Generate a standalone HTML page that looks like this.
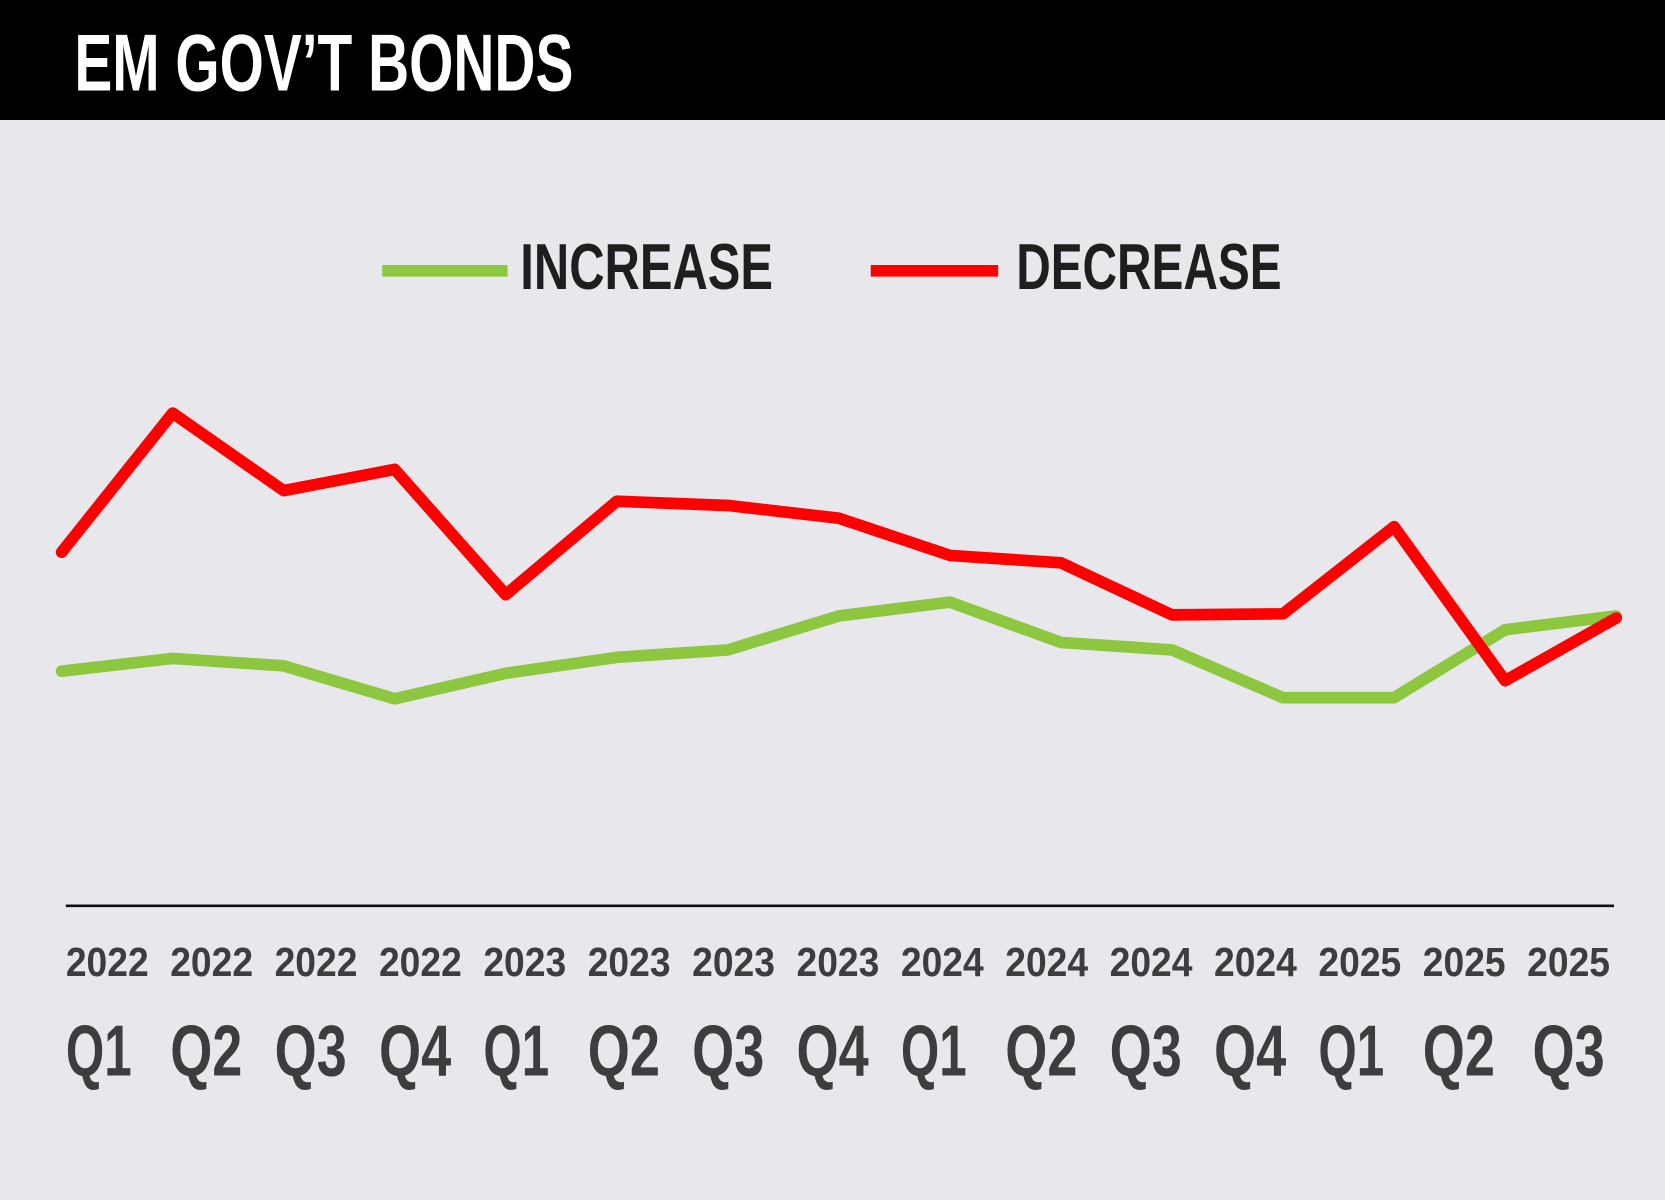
<!DOCTYPE html>
<html><head><meta charset="utf-8"><style>
html,body{margin:0;padding:0;background:#e7e7ec;}
svg{display:block;}
text{font-family:"Liberation Sans Narrow","Liberation Sans",sans-serif;font-weight:bold;}
</style></head><body>
<svg id="chart" width="1665" height="1200" viewBox="0 0 1568 1130" preserveAspectRatio="none" xmlns="http://www.w3.org/2000/svg">
<rect x="0" y="0" width="1568" height="1130" fill="#e7e7ec"/>
<rect x="0" y="0" width="1568" height="113" fill="#000"/>
<text x="70" y="85" font-size="76" fill="#fff" textLength="470" lengthAdjust="spacingAndGlyphs">EM GOV’T BONDS</text>
<g>
<line x1="360" y1="255" x2="478" y2="255" stroke="#8dc63f" stroke-width="11"/>
<text x="490" y="272" font-size="61" fill="#1e1e1e" textLength="238" lengthAdjust="spacingAndGlyphs">INCREASE</text>
<line x1="820" y1="255" x2="940" y2="255" stroke="#ff0000" stroke-width="11"/>
<text x="957" y="272" font-size="61" fill="#1e1e1e" textLength="250" lengthAdjust="spacingAndGlyphs">DECREASE</text>
</g>
<line x1="62" y1="853" x2="1520" y2="853" stroke="#111" stroke-width="2.5"/>
<g id="series"></g>
<g id="labels"></g>
</svg>
<script>
const years = ["2022","2022","2022","2022","2023","2023","2023","2023","2024","2024","2024","2024","2025","2025","2025"];
const quarters = ["Q1","Q2","Q3","Q4","Q1","Q2","Q3","Q4","Q1","Q2","Q3","Q4","Q1","Q2","Q3"];
const increase = [13.6,16,14.6,8.4,13.2,16.2,17.6,24,26.6,19,17.6,8.6,8.6,21.4,24];
const decrease = [36,62.2,47.6,51.6,28,45.6,44.8,42.4,35.4,34,24.2,24.4,40.8,11.8,23.6];

const NS = "http://www.w3.org/2000/svg";
function xPos(i){ return 58 + i * (1522 - 58) / (years.length - 1); }
function yPos(v){ return 700 - v * 5; }
function labelX(i){ return 62 + i * 98.3; }

const series = document.getElementById('series');
function drawLine(vals, color, name){
  const p = document.createElementNS(NS, 'polyline');
  p.setAttribute('points', vals.map((v,i)=>xPos(i)+','+yPos(v)).join(' '));
  p.setAttribute('fill','none');
  p.setAttribute('stroke',color);
  p.setAttribute('stroke-width','11');
  p.setAttribute('stroke-linejoin','round');
  p.setAttribute('stroke-linecap','round');
  
  
  series.appendChild(p);
}
drawLine(increase, '#8dc63f', 'increase-line');
drawLine(decrease, '#ff0000', 'decrease-line');

const labels = document.getElementById('labels');
years.forEach((y,i)=>{
  const t = document.createElementNS(NS,'text');
  t.setAttribute('x', labelX(i));
  t.setAttribute('y', 919);
  t.setAttribute('font-size','38');
  t.setAttribute('fill','#3d3d40');
  t.setAttribute('textLength','78');
  t.setAttribute('lengthAdjust','spacingAndGlyphs');
  t.textContent = y;
  
  
  labels.appendChild(t);
  const q = document.createElementNS(NS,'text');
  q.setAttribute('x', labelX(i) + (i===14?5:0));
  q.setAttribute('y', 1013);
  q.setAttribute('font-size','68');
  q.setAttribute('fill','#3d3d40');
  q.setAttribute('textLength', quarters[i]==="Q1" ? '62' : '68');
  q.setAttribute('lengthAdjust','spacingAndGlyphs');
  q.textContent = quarters[i];
  
  
  labels.appendChild(q);
});
</script>
</body></html>
